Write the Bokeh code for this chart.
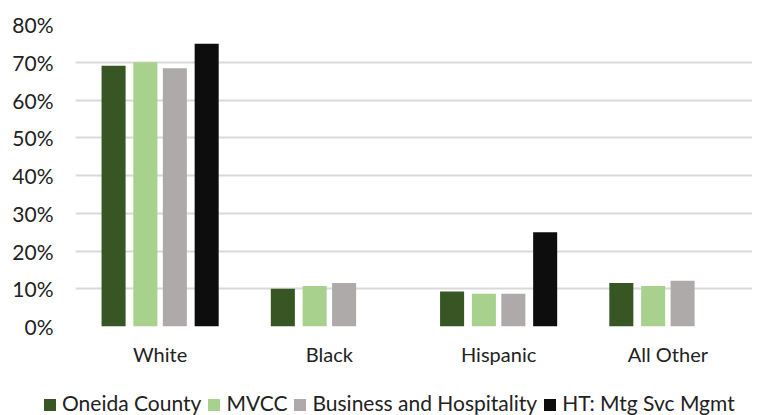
from bokeh.plotting import figure
from bokeh.layouts import column
from bokeh.models import (FactorRange, Range1d, FixedTicker, PrintfTickFormatter,
                          ColumnDataSource, Div)
from bokeh.transform import dodge
from bokeh.embed import file_html
from bokeh.resources import INLINE

categories = ["White", "Black", "Hispanic", "All Other"]
series = ["Oneida County", "MVCC", "Business and Hospitality", "HT: Mtg Svc Mgmt"]
oneida = [69.1, 10.0, 9.3, 11.5]
mvcc = [70.0, 10.7, 8.7, 10.7]
business = [68.4, 11.5, 8.7, 12.1]
ht = [74.9, 0.0, 25.0, 0.0]
y_ticks = [0, 10, 20, 30, 40, 50, 60, 70, 80]

colors = ["#375623", "#A9D18E", "#AEAAAA", "#0D0D0D"]
offsets = [-0.275, -0.087, 0.087, 0.275]
FONT = "Lato"
TEXT_COLOR = "#222222"
keys = ["s0", "s1", "s2", "s3"]

src = ColumnDataSource(dict(cat=categories, s0=oneida, s1=mvcc, s2=business, s3=ht))

# ---- main chart ----
p = figure(x_range=FactorRange(*categories), y_range=Range1d(0, 80), width=752, height=383,
           output_backend="svg", toolbar_location=None,
           min_border_left=75, min_border_right=0, min_border_top=24, min_border_bottom=57)

for i, key in enumerate(keys):
    p.vbar(x=dodge("cat", offsets[i], range=p.x_range), top=key, width=0.142,
           source=src, fill_color=colors[i], line_color=None, legend_label=series[i])

p.legend.visible = False
p.outline_line_color = None
p.xgrid.grid_line_color = None
p.ygrid.grid_line_color = "#D9D9D9"
p.ygrid.grid_line_width = 2
p.ygrid.ticker = FixedTicker(ticks=y_ticks)

p.yaxis.ticker = FixedTicker(ticks=y_ticks)
p.yaxis.formatter = PrintfTickFormatter(format="%d%%")
for ax in (p.xaxis[0], p.yaxis[0]):
    ax.axis_line_color = None
    ax.major_tick_line_color = None
    ax.minor_tick_line_color = None
    ax.major_tick_out = 0
    ax.major_tick_in = 0
    ax.major_label_text_font = FONT
    ax.major_label_text_color = TEXT_COLOR
p.yaxis.major_label_text_font_size = "21px"
p.xaxis.major_label_text_font_size = "20px"
p.yaxis.major_label_standoff = 22
p.xaxis.major_label_standoff = 15

# ---- legend strip below the chart ----
items_html = "".join(
    f'<span style="display:inline-block;width:12px;height:12px;background:{c};'
    f'margin-right:6px;vertical-align:0px;"></span>'
    f'<span style="margin-right:7px;">{s}</span>'
    for s, c in zip(series, colors)
)
legend_div = Div(
    text=f'<div style="white-space:nowrap;font-family:Lato;font-size:21px;color:{TEXT_COLOR};'
         f'line-height:20px;padding-left:44px;padding-top:10px;">{items_html}</div>',
    width=752, height=30, margin=(0, 0, 0, 0),
    styles={"overflow": "visible"},
)

layout = column(p, legend_div, spacing=0)
open("out.html", "w").write(file_html(layout, INLINE))
